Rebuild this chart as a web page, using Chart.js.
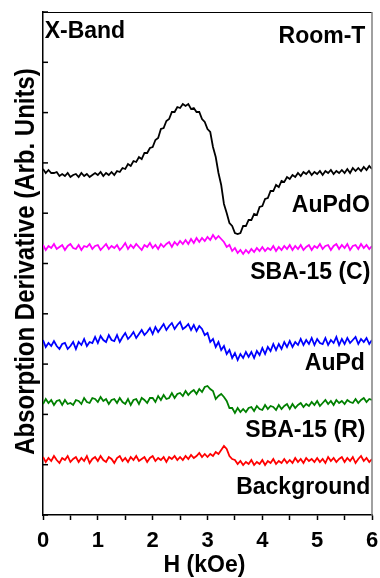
<!DOCTYPE html>
<html>
<head>
<meta charset="utf-8">
<script src="https://cdn.jsdelivr.net/npm/chart.js@4.4.1/dist/chart.umd.min.js"></script>
<style>
  html, body { margin: 0; padding: 0; background: #fff; }
</style>
</head>
<body>
<canvas id="eprChart" width="380" height="578"></canvas>
<script>

// field values (kOe)
var hField = [
  0, 0.05, 0.1, 0.15, 0.2, 0.25, 0.3, 0.35, 0.4, 0.45,
  0.5, 0.55, 0.6, 0.65, 0.7, 0.75, 0.8, 0.85, 0.9, 0.95,
  1, 1.05, 1.1, 1.15, 1.2, 1.25, 1.3, 1.35, 1.4, 1.45,
  1.5, 1.55, 1.6, 1.65, 1.7, 1.75, 1.8, 1.85, 1.9, 1.95,
  2, 2.05, 2.1, 2.15, 2.2, 2.25, 2.3, 2.35, 2.4, 2.45,
  2.5, 2.55, 2.6, 2.65, 2.7, 2.75, 2.8, 2.85, 2.9, 2.95,
  3, 3.05, 3.1, 3.15, 3.2, 3.25, 3.3, 3.35, 3.4, 3.45,
  3.5, 3.55, 3.6, 3.65, 3.7, 3.75, 3.8, 3.85, 3.9, 3.95,
  4, 4.05, 4.1, 4.15, 4.2, 4.25, 4.3, 4.35, 4.4, 4.45,
  4.5, 4.55, 4.6, 4.65, 4.7, 4.75, 4.8, 4.85, 4.9, 4.95,
  5, 5.05, 5.1, 5.15, 5.2, 5.25, 5.3, 5.35, 5.4, 5.45,
  5.5, 5.55, 5.6, 5.65, 5.7, 5.75, 5.8, 5.85, 5.9, 5.95,
  6
];

// stacked derivative signals (arb. units, offset per sample)
var auPdO = [
  346, 342, 345, 342, 342, 343, 339, 341, 339, 342,
  338, 340, 341, 338, 342, 339, 341, 338, 340, 342,
  340, 343, 339, 342, 340, 343, 340, 344, 343, 347,
  346, 351, 349, 354, 353, 358, 356, 362, 362, 367,
  368, 375, 377, 386, 387, 394, 396, 403, 403, 408,
  407, 411, 409, 411, 406, 407, 403, 403, 396, 393,
  386, 383, 368, 358, 342, 330, 311, 302, 292, 289,
  282, 281, 282, 289, 289, 295, 295, 301, 300, 308,
  309, 316, 317, 324, 324, 330, 328, 334, 333, 338,
  336, 340, 338, 342, 339, 343, 341, 344, 340, 343,
  341, 344, 340, 344, 342, 345, 341, 344, 342, 345,
  342, 346, 342, 347, 344, 347, 344, 348, 345, 349,
  346
];

var sba15C = [
  270, 265, 269, 267, 271, 266, 268, 270, 265, 269,
  271, 267, 266, 270, 265, 269, 268, 271, 266, 269,
  270, 265, 268, 271, 266, 269, 267, 270, 265, 268,
  272, 266, 270, 267, 271, 268, 265, 270, 268, 272,
  267, 270, 266, 271, 268, 271, 273, 268, 273, 270,
  274, 271, 275, 271, 276, 272, 277, 273, 277, 274,
  278, 275, 280, 276, 279, 276, 273, 268, 270, 264,
  267, 262, 265, 261, 265, 262, 266, 263, 267, 264,
  268, 264, 267, 265, 269, 264, 268, 265, 269, 266,
  270, 265, 269, 266, 270, 265, 268, 270, 265, 269,
  267, 271, 266, 269, 270, 265, 269, 271, 266, 270,
  267, 271, 265, 269, 270, 266, 271, 267, 270, 266,
  269
];

var auPd = [
  175, 168, 172, 169, 174, 169, 166, 171, 172, 166,
  169, 173, 166, 173, 170, 176, 169, 173, 172, 178,
  172, 179, 175, 173, 180, 175, 174, 180, 173, 178,
  182, 176, 179, 183, 177, 181, 185, 180, 183, 187,
  181, 188, 183, 187, 191, 185, 189, 192, 186, 190,
  193, 186, 188, 191, 185, 190, 184, 189, 186, 180,
  182, 173, 176, 168, 173, 165, 169, 161, 165, 157,
  162, 155, 161, 157, 163, 158, 163, 157, 164, 160,
  167, 161, 168, 164, 171, 165, 171, 166, 173, 168,
  174, 168, 173, 170, 176, 170, 175, 171, 177, 170,
  176, 172, 171, 177, 170, 175, 172, 178, 170, 176,
  171, 177, 172, 175, 178, 171, 176, 173, 177, 171,
  175
];

var sba15R = [
  111, 116, 112, 115, 110, 114, 115, 110, 115, 111,
  112, 110, 115, 114, 111, 117, 113, 112, 117, 116,
  113, 118, 114, 116, 111, 115, 116, 112, 117, 113,
  111, 116, 110, 115, 116, 111, 117, 115, 112, 117,
  117, 113, 119, 115, 120, 116, 117, 122, 117, 121,
  122, 119, 124, 120, 123, 125, 121, 126, 123, 128,
  129, 126, 124, 116, 119, 121, 118, 114, 107, 107,
  102, 107, 103, 106, 103, 107, 108, 104, 109, 106,
  105, 110, 106, 109, 108, 105, 110, 106, 109, 111,
  106, 111, 107, 110, 112, 108, 111, 109, 113, 110,
  114, 109, 112, 115, 111, 114, 110, 115, 112, 114,
  111, 115, 113, 112, 116, 112, 115, 117, 113, 116,
  115
];

var background = [
  58, 53, 57, 54, 59, 55, 52, 57, 55, 59,
  53, 56, 58, 53, 57, 54, 59, 52, 56, 58,
  54, 59, 55, 53, 58, 56, 52, 57, 59, 54,
  57, 53, 58, 55, 59, 54, 56, 58, 53, 57,
  59, 54, 57, 55, 58, 53, 58, 56, 59, 55,
  58, 55, 59, 56, 60, 57, 59, 62, 58, 61,
  58, 61, 59, 63, 61, 65, 69, 66, 59, 56,
  55, 51, 54, 50, 53, 51, 55, 50, 53, 51,
  55, 50, 54, 52, 56, 51, 54, 52, 56, 52,
  55, 52, 57, 53, 56, 52, 57, 54, 56, 53,
  57, 53, 56, 52, 58, 54, 57, 53, 56, 58,
  53, 57, 54, 58, 52, 56, 59, 54, 57, 53,
  56
];

var xTicks = [0, 1, 2, 3, 4, 5, 6];

var seriesNames = ['AuPdO', 'SBA-15 (C)', 'AuPd', 'SBA-15 (R)', 'Background'];
var seriesColors = ['#000000', '#ff00ff', '#0000ff', '#008000', '#ff0000'];
var seriesData = [auPdO, sba15C, auPd, sba15R, background];

// text tags, anchored in data units (kOe, arb.)
var tags = [
  { text: 'X-Band', h: 0.03, v: 477, align: 'left' },
  { text: 'Room-T', h: 5.88, v: 472, align: 'right' },
  { text: 'AuPdO', h: 5.96, v: 303, align: 'right' },
  { text: 'SBA-15 (C)', h: 5.97, v: 236, align: 'right' },
  { text: 'AuPd', h: 5.87, v: 145, align: 'right' },
  { text: 'SBA-15 (R)', h: 5.88, v: 78, align: 'right' },
  { text: 'Background', h: 5.97, v: 21, align: 'right' }
];

var boldFont = '"Liberation Sans", Arial, sans-serif';

function drawEprChart() {

    var datasets = seriesData.map(function (vals, i) {
        return {
            label: seriesNames[i],
            data: vals.map(function (v, k) { return { x: hField[k], y: v }; }),
            borderColor: seriesColors[i],
            borderWidth: 1.8,
            pointRadius: 0,
            tension: 0,
            fill: false
        };
    });

    var framePlugin = {
        id: 'framePlugin',
        afterDraw: function (chart) {
            var ctx = chart.ctx,
                a = chart.chartArea,
                xs = chart.scales.x,
                ys = chart.scales.y;

            ctx.save();
            // top + right edge of the box
            ctx.strokeStyle = '#000';
            ctx.lineWidth = 1;
            ctx.beginPath();
            ctx.moveTo(a.left, a.top + 0.5);
            ctx.lineTo(a.right, a.top + 0.5);
            ctx.stroke();
            ctx.strokeStyle = '#808080';
            ctx.lineWidth = 1.5;
            ctx.beginPath();
            ctx.moveTo(a.right, a.top);
            ctx.lineTo(a.right, a.bottom);
            ctx.stroke();

            // inward ticks on the left axis
            ctx.strokeStyle = '#000';
            ctx.lineWidth = 1.5;
            ys.ticks.forEach(function (t) {
                var py = ys.getPixelForValue(t.value);
                ctx.beginPath();
                ctx.moveTo(a.left, py);
                ctx.lineTo(a.left + 5, py);
                ctx.stroke();
            });

            // sample tags
            ctx.fillStyle = '#000';
            ctx.font = 'bold 23px ' + boldFont;
            ctx.textBaseline = 'alphabetic';
            tags.forEach(function (t) {
                ctx.textAlign = t.align;
                ctx.fillText(t.text, xs.getPixelForValue(t.h), ys.getPixelForValue(t.v));
            });

            // axis titles
            ctx.textAlign = 'center';
            ctx.font = 'bold 23px ' + boldFont;
            ctx.fillText('H (kOe)', (a.left + a.right) / 2 - 3, 572);

            ctx.translate(34, (a.top + a.bottom) / 2 - 2);
            ctx.rotate(-Math.PI / 2);
            ctx.scale(1, 1.15);
            ctx.font = 'bold 24px ' + boldFont;
            ctx.fillText('Absorption Derivative (Arb. Units)', 0, 0);
            ctx.restore();
        }
    };

    new Chart(document.getElementById('eprChart').getContext('2d'), {
        type: 'line',
        data: { datasets: datasets },
        options: {
            responsive: false,
            animation: false,
            layout: { padding: { top: 12, right: 8, left: 0, bottom: 0 } },
            plugins: {
                legend: { display: false },
                tooltip: { enabled: false }
            },
            scales: {
                x: {
                    type: 'linear',
                    min: 0,
                    max: 6,
                    afterFit: function (s) {
                        s.height = 63;
                        s.paddingLeft = 0;
                        s.paddingRight = 0;
                    },
                    ticks: {
                        stepSize: 0.5,
                        autoSkip: false,
                        maxRotation: 0,
                        padding: 8,
                        color: '#000',
                        font: { family: boldFont, weight: 'bold', size: 22 },
                        callback: function (v) { return xTicks.indexOf(v) >= 0 ? String(v) : ''; }
                    },
                    grid: {
                        display: true,
                        drawOnChartArea: false,
                        drawTicks: true,
                        tickLength: 5,
                        tickWidth: 1.5,
                        tickColor: '#000'
                    },
                    border: { display: true, color: '#000', width: 1.5 }
                },
                y: {
                    min: 0,
                    max: 503,
                    afterFit: function (s) { s.width = 43; },
                    ticks: { display: false, stepSize: 50.3 },
                    grid: { display: false },
                    border: { display: true, color: '#000', width: 1.5 }
                }
            }
        },
        plugins: [framePlugin]
    });
}

drawEprChart();
</script>
</body>
</html>
